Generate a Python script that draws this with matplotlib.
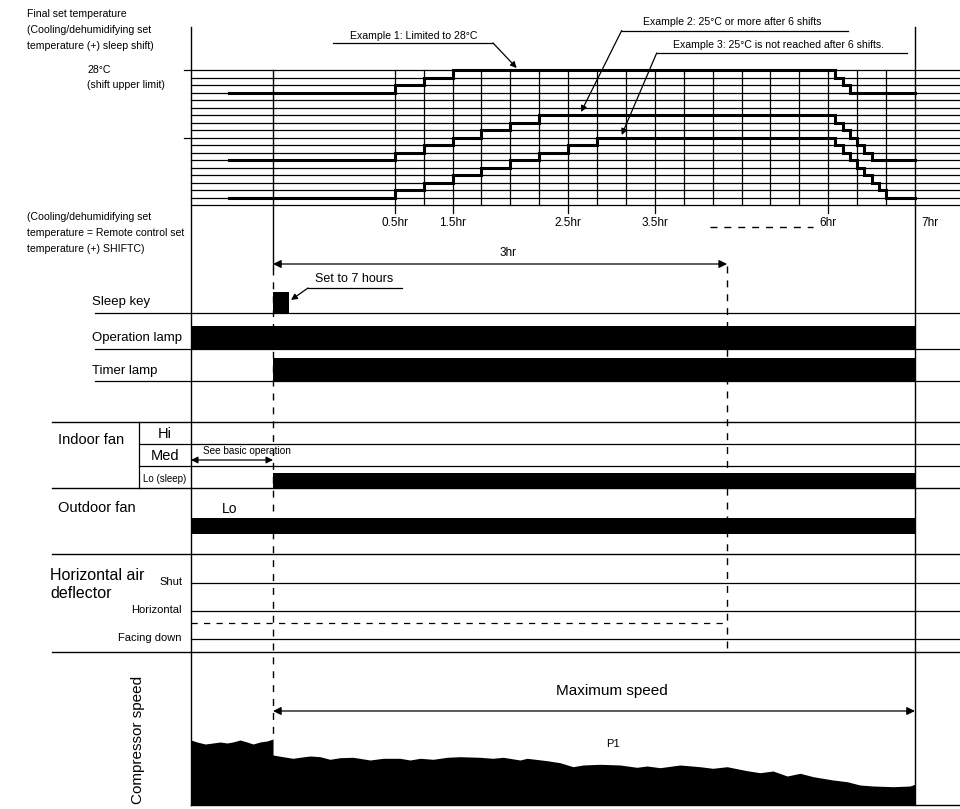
import matplotlib
matplotlib.use('Agg')
import matplotlib.pyplot as plt

plt.rcParams['font.family'] = ['Liberation Sans', 'DejaVu Sans']

# time grid: one unit = one grid cell, 0 = the 0.5hr line
time_ticks = [0, 2, 6, 9, 15]
time_labels = ['0.5hr', '1.5hr', '2.5hr', '3.5hr', '6hr']
end_u = 18          # 7hr
sleep_u = -4.21     # sleep key pressed
start_u = -5.73
three_hr_u = 11.5

# temperature examples: level index below the 28°C limit (0 = limit)
ex1_t = [start_u, 0, 1, 2, 15.25, 15.5, 15.75, end_u]
ex1_lv = [3, 2, 1, 0, 1, 2, 3, 3]
ex2_t = [start_u, 0, 1, 2, 3, 4, 5, 15.25, 15.5, 15.75, 16.0, 16.25, 16.5, end_u]
ex2_lv = [12, 11, 10, 9, 8, 7, 6, 7, 8, 9, 10, 11, 12, 12]
ex3_t = [start_u, 0, 1, 2, 3, 4, 5, 6, 7, 15.25, 15.5, 15.75, 16.0, 16.25, 16.5, 16.75, 17.0, end_u]
ex3_lv = [17, 16, 15, 14, 13, 12, 11, 10, 9, 10, 11, 12, 13, 14, 15, 16, 17, 17]
n_levels = 19

# compressor speed profile (height above base)
comp_pre_t = [-7.05, -6.84, -6.56, -6.29, -6.04, -5.80, -5.60, -5.35, -5.11, -4.90, -4.66, -4.42, -4.21]
comp_pre_h = [65, 63, 61, 62, 63, 62, 63, 65, 63, 61, 63, 64, 66]
comp_t = [-4.21, -3.87, -3.52, -3.28, -2.93, -2.58, -2.24, -1.89, -1.44, -0.85, -0.40, 0.18, 0.53,
          0.88, 1.33, 1.81, 2.26, 2.95, 3.40, 3.75, 4.34, 4.58, 5.27, 5.72, 6.17, 6.52, 7.10,
          7.80, 8.38, 8.73, 9.18, 9.87, 10.56, 11.01, 11.50, 12.19, 12.64, 13.09, 13.58, 14.03,
          14.48, 15.17, 15.65, 16.10, 16.55, 17.25, 17.83, 18.0]
comp_h = [50, 48.3, 46.7, 47.7, 49, 48.3, 45.7, 47.3, 47.7, 45, 46.7, 46.7, 45,
          46.7, 45.7, 47.7, 48.3, 47.7, 46.7, 47.7, 45, 46.7, 44.3, 42.3, 38.3, 40, 40.7,
          40, 37.7, 39, 37.3, 40, 38.3, 36.7, 38.3, 34.3, 32.3, 34, 29, 31.7,
          28.3, 25, 23.3, 20, 19, 18.3, 19, 20.7]

X0, DX = 394.7, 28.9


def px(x):
    return (x - X0) / DX


def lv(j):
    return 70 + 7.5 * j


fig = plt.figure(figsize=(9.6, 8.09), dpi=100)
ax = fig.add_axes([0, 0, 1, 1])
ax.set_xlim(px(0), px(960))
ax.set_ylim(809, 0)
ax.axis('off')

L = px(191)
R = px(960)
K = 'black'

# main verticals
ax.plot([L, L], [27, 805], color=K, lw=1.0)
ax.plot([end_u, end_u], [27, 805], color=K, lw=1.0)
ax.plot([sleep_u, sleep_u], [70, 268], color=K, lw=1.0)
ax.plot([sleep_u, sleep_u], [268, 740], color=K, lw=1.0, ls=(0, (5, 5)))
ax.plot([three_hr_u, three_hr_u], [266, 648], color=K, lw=1.0, ls=(0, (5, 5)))

# temperature grid
for j in range(n_levels):
    ax.plot([L, R], [lv(j), lv(j)], color=K, lw=0.9)
for k in range(end_u):
    bottom = 213 if k in time_ticks else lv(n_levels - 1)
    ax.plot([k, k], [lv(0), bottom], color=K, lw=0.9)
for j in (0, 9):
    ax.plot([px(184), L], [lv(j), lv(j)], color=K, lw=0.9)

for t, l in ((ex1_t, ex1_lv), (ex2_t, ex2_lv), (ex3_t, ex3_lv)):
    ax.step(t, [lv(j) for j in l], where='post', color=K, lw=2.2, solid_joinstyle='miter')

for k, s in zip(time_ticks, time_labels):
    ax.text(k, 223, s, ha='center', va='center', fontsize=8.5)
ax.text(end_u + px(921) - px(914.7), 223, '7hr', ha='left', va='center', fontsize=8.5)
ax.plot([px(710), px(813)], [227, 227], color=K, lw=1.0, ls=(0, (5, 5)))

# left notes
for y, s in ((14, 'Final set temperature'), (30, '(Cooling/dehumidifying set'),
             (46, 'temperature (+) sleep shift)'), (217, '(Cooling/dehumidifying set'),
             (233, 'temperature = Remote control set'), (249, 'temperature (+) SHIFTC)')):
    ax.text(px(27), y, s, ha='left', va='center', fontsize=7.6)
ax.text(px(87), 70, '28°C', ha='left', va='center', fontsize=7.6)
ax.text(px(87), 85, '(shift upper limit)', ha='left', va='center', fontsize=7.6)

# example callouts: text, text x, text y, underline x0, x1, y, arrow start x, arrow tip
callouts = [('Example 1: Limited to 28°C', 350, 36, 333, 493, 43, 493, 516.7, 68),
            ('Example 2: 25°C or more after 6 shifts', 643, 22, 621.7, 848, 30.5, 621.7, 581, 112),
            ('Example 3: 25°C is not reached after 6 shifts.', 673, 45, 656.7, 907, 53, 656.7, 621.7, 135)]
for s, tx, ty, ux0, ux1, uy, sx, ax_, ay_ in callouts:
    ax.text(px(tx), ty, s, ha='left', va='center', fontsize=7.6)
    ax.plot([px(ux0), px(ux1)], [uy, uy], color=K, lw=0.9)
    ax.annotate('', xy=(px(ax_), ay_), xytext=(px(sx), uy),
                arrowprops=dict(arrowstyle='-|>', color=K, lw=0.9, mutation_scale=9, shrinkA=0, shrinkB=0))

# 3hr arrow
ax.annotate('', xy=(sleep_u, 264), xytext=(three_hr_u, 264),
            arrowprops=dict(arrowstyle='<|-|>', color=K, lw=0.9, mutation_scale=12, shrinkA=0, shrinkB=0))
ax.text(px(508), 253, '3hr', ha='center', va='center', fontsize=8.5)

# rows
for y in (313, 349, 381):
    ax.plot([px(95), R], [y, y], color=K, lw=0.9)
ax.text(px(92), 302, 'Sleep key', ha='left', va='center', fontsize=9.5)
ax.text(px(92), 338, 'Operation lamp', ha='left', va='center', fontsize=9.5)
ax.text(px(92), 371, 'Timer lamp', ha='left', va='center', fontsize=9.5)
ax.fill_between([sleep_u, px(289)], 292, 313, color=K, lw=0)
ax.fill_between([L, end_u], 326, 349, color=K, lw=0)
ax.fill_between([sleep_u, end_u], 358, 381, color=K, lw=0)
ax.text(px(315), 279, 'Set to 7 hours', ha='left', va='center', fontsize=9)
ax.plot([px(308), px(402)], [288, 288], color=K, lw=0.9)
ax.annotate('', xy=(px(291), 300), xytext=(px(308), 288),
            arrowprops=dict(arrowstyle='-|>', color=K, lw=0.9, mutation_scale=9, shrinkA=0, shrinkB=0))

for y in (422, 488, 554, 652):
    ax.plot([px(52), R], [y, y], color=K, lw=1.0)
for y in (444, 466):
    ax.plot([px(139), R], [y, y], color=K, lw=0.9)
ax.plot([px(139), px(139)], [422, 488], color=K, lw=0.9)
ax.text(px(58), 440, 'Indoor fan', ha='left', va='center', fontsize=10.5)
ax.text(px(165), 434, 'Hi', ha='center', va='center', fontsize=10.5)
ax.text(px(165), 456, 'Med', ha='center', va='center', fontsize=10.5)
ax.text(px(165), 479, 'Lo (sleep)', ha='center', va='center', fontsize=7)
ax.fill_between([sleep_u, end_u], 473, 488, color=K, lw=0)
ax.annotate('', xy=(L, 460), xytext=(sleep_u, 460),
            arrowprops=dict(arrowstyle='<|-|>', color=K, lw=0.9, mutation_scale=10, shrinkA=0, shrinkB=0))
ax.text(px(203), 451, 'See basic operation', ha='left', va='center', fontsize=7.2)

ax.text(px(58), 508, 'Outdoor fan', ha='left', va='center', fontsize=10.5)
ax.text(px(230), 509, 'Lo', ha='center', va='center', fontsize=10)
ax.fill_between([L, end_u], 518, 534, color=K, lw=0)

ax.text(px(50), 575, 'Horizontal air', ha='left', va='center', fontsize=11.5)
ax.text(px(50), 593, 'deflector', ha='left', va='center', fontsize=11.5)
for y, s in ((582, 'Shut'), (610, 'Horizontal'), (638, 'Facing down')):
    ax.text(px(182), y, s, ha='right', va='center', fontsize=8)
    ax.plot([L, R], [y + 1, y + 1], color=K, lw=0.9)
ax.plot([L, three_hr_u], [623, 623], color=K, lw=0.9, ls=(0, (5, 5)))

# compressor
base = 805
ax.fill_between(comp_pre_t + comp_t, [base - h for h in comp_pre_h + comp_h], base, color=K, lw=0)
ax.plot([L, R], [base, base], color=K, lw=1.0)
ax.text(px(138), 740, 'Compressor speed', ha='center', va='center', rotation=90, fontsize=11)
ax.annotate('', xy=(sleep_u, 711), xytext=(end_u, 711),
            arrowprops=dict(arrowstyle='<|-|>', color=K, lw=0.9, mutation_scale=12, shrinkA=0, shrinkB=0))
ax.text(px(612), 691, 'Maximum speed', ha='center', va='center', fontsize=11)
ax.text(px(613), 744, 'P1', ha='center', va='center', fontsize=8)

fig.savefig('out.png', dpi=100)
